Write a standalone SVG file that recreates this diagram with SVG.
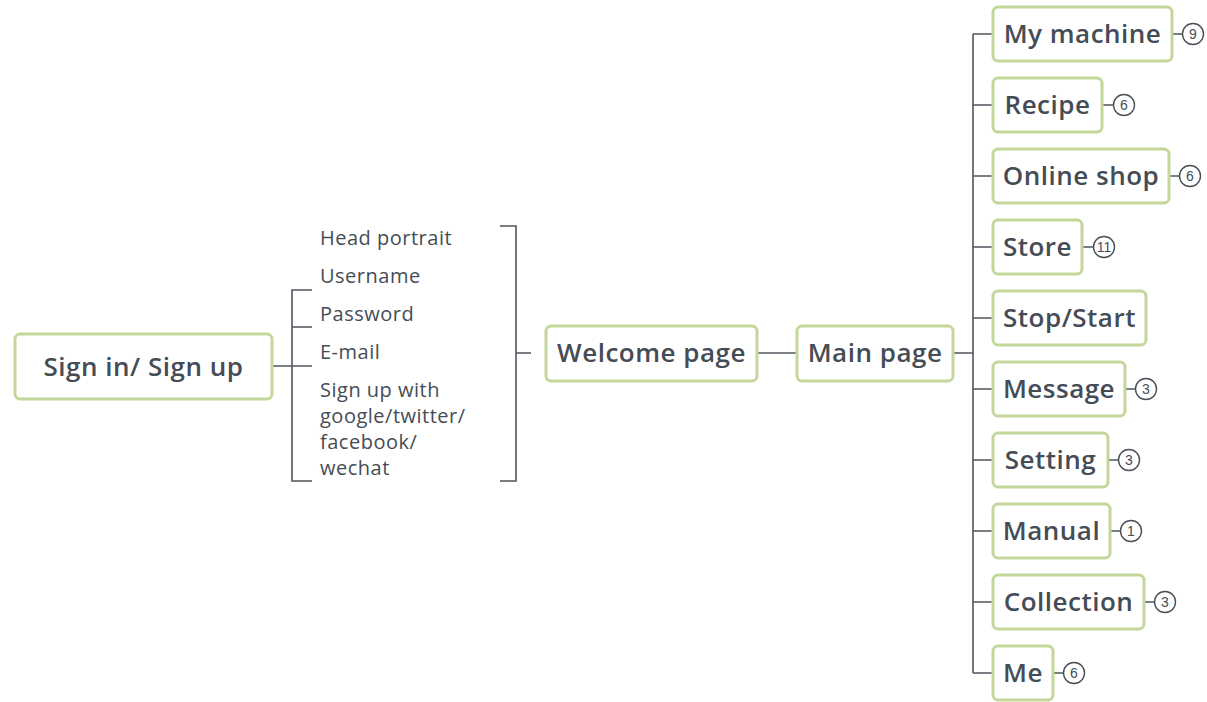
<svg xmlns="http://www.w3.org/2000/svg" width="1207" height="702" viewBox="0 0 1207 702">
  <style>
    .box { fill: #ffffff; stroke: #c3d79a; stroke-width: 3; }
    .lbl { font-family: "Open Sans", "Liberation Sans", sans-serif; font-weight: 600; font-size: 26px; letter-spacing: 0.5px; fill: #454c55; text-anchor: middle; }
    .item { font-family: "Open Sans", "Liberation Sans", sans-serif; font-size: 20px; letter-spacing: 0.5px; fill: #454c55; }
    .ln { fill: none; stroke: #50565e; stroke-width: 1.6; }
    .badge { fill: #ffffff; stroke: #4a5058; stroke-width: 1.4; }
    .num { font-family: "Liberation Sans", sans-serif; font-size: 14px; fill: #454c55; text-anchor: middle; }
  </style>
  <rect width="1207" height="702" fill="#ffffff"/>

  <g id="connectors">
    <!-- sign in to field list -->
    <path class="ln" d="M272 366 H312"/>
    <path class="ln" d="M312 290 H292 V481 H312 M292 327 H312"/>
    <!-- field list bracket to welcome page -->
    <path class="ln" d="M500 226 H516 V481 H500 M516 353 H531"/>
    <path class="ln" d="M757 353 H797"/>
    <!-- main page trunk -->
    <path class="ln" d="M953 353 H973 M973 34 V673"/>
    <path class="ln" d="M973 34 H993 M973 105 H993 M973 176 H993 M973 247 H993 M973 318 H993 M973 389 H993 M973 460 H993 M973 531 H993 M973 602 H993 M973 673 H993"/>
    <!-- badge stubs -->
    <path class="ln" d="M1172 34 H1183 M1102 105 H1113 M1169 176 H1180 M1082 247 H1093 M1125 389 H1136 M1108 460 H1119 M1110 531 H1121 M1144 602 H1155 M1053 673 H1064"/>
  </g>

  <g id="sign-in">
    <rect class="box" x="15" y="334" width="257" height="65" rx="5"/>
    <text class="lbl" x="143.5" y="376">Sign in/ Sign up</text>
  </g>

  <g id="fields">
    <text class="item" x="320" y="245">Head portrait</text>
    <text class="item" x="320" y="283">Username</text>
    <text class="item" x="320" y="321">Password</text>
    <text class="item" x="320" y="359">E-mail</text>
    <text class="item" x="320" y="397">Sign up with</text>
    <text class="item" x="320" y="423">google/twitter/</text>
    <text class="item" x="320" y="449">facebook/</text>
    <text class="item" x="320" y="475">wechat</text>
  </g>

  <g id="welcome">
    <rect class="box" x="546" y="326" width="211" height="55" rx="5"/>
    <text class="lbl" x="651.5" y="362">Welcome page</text>
  </g>

  <g id="main">
    <rect class="box" x="797" y="326" width="156" height="55" rx="5"/>
    <text class="lbl" x="875" y="362">Main page</text>
  </g>

  <g id="my-machine">
    <rect class="box" x="993" y="7" width="179" height="54" rx="5"/>
    <text class="lbl" x="1082.5" y="43">My machine</text>
    <circle class="badge" cx="1193" cy="34" r="10.5"/>
    <text class="num" x="1193" y="39">9</text>
  </g>
  <g id="recipe">
    <rect class="box" x="993" y="78" width="109" height="54" rx="5"/>
    <text class="lbl" x="1047.5" y="114">Recipe</text>
    <circle class="badge" cx="1124" cy="105" r="10.5"/>
    <text class="num" x="1124" y="110">6</text>
  </g>
  <g id="online-shop">
    <rect class="box" x="993" y="149" width="176" height="54" rx="5"/>
    <text class="lbl" x="1081" y="185">Online shop</text>
    <circle class="badge" cx="1190" cy="176" r="10.5"/>
    <text class="num" x="1190" y="181">6</text>
  </g>
  <g id="store">
    <rect class="box" x="993" y="220" width="89" height="54" rx="5"/>
    <text class="lbl" x="1037.5" y="256">Store</text>
    <circle class="badge" cx="1104" cy="247" r="10.5"/>
    <text class="num" x="1104" y="252">11</text>
  </g>
  <g id="stop-start">
    <rect class="box" x="993" y="291" width="153" height="54" rx="5"/>
    <text class="lbl" x="1069.5" y="327">Stop/Start</text>
  </g>
  <g id="message">
    <rect class="box" x="993" y="362" width="132" height="54" rx="5"/>
    <text class="lbl" x="1059" y="398">Message</text>
    <circle class="badge" cx="1146" cy="389" r="10.5"/>
    <text class="num" x="1146" y="394">3</text>
  </g>
  <g id="setting">
    <rect class="box" x="993" y="433" width="115" height="54" rx="5"/>
    <text class="lbl" x="1050.5" y="469">Setting</text>
    <circle class="badge" cx="1129" cy="460" r="10.5"/>
    <text class="num" x="1129" y="465">3</text>
  </g>
  <g id="manual">
    <rect class="box" x="993" y="504" width="117" height="54" rx="5"/>
    <text class="lbl" x="1051.5" y="540">Manual</text>
    <circle class="badge" cx="1131" cy="531" r="10.5"/>
    <text class="num" x="1131" y="536">1</text>
  </g>
  <g id="collection">
    <rect class="box" x="993" y="575" width="151" height="54" rx="5"/>
    <text class="lbl" x="1068.5" y="611">Collection</text>
    <circle class="badge" cx="1165" cy="602" r="10.5"/>
    <text class="num" x="1165" y="607">3</text>
  </g>
  <g id="me">
    <rect class="box" x="993" y="646" width="60" height="54" rx="5"/>
    <text class="lbl" x="1023" y="682">Me</text>
    <circle class="badge" cx="1074" cy="673" r="10.5"/>
    <text class="num" x="1074" y="678">6</text>
  </g>
</svg>
